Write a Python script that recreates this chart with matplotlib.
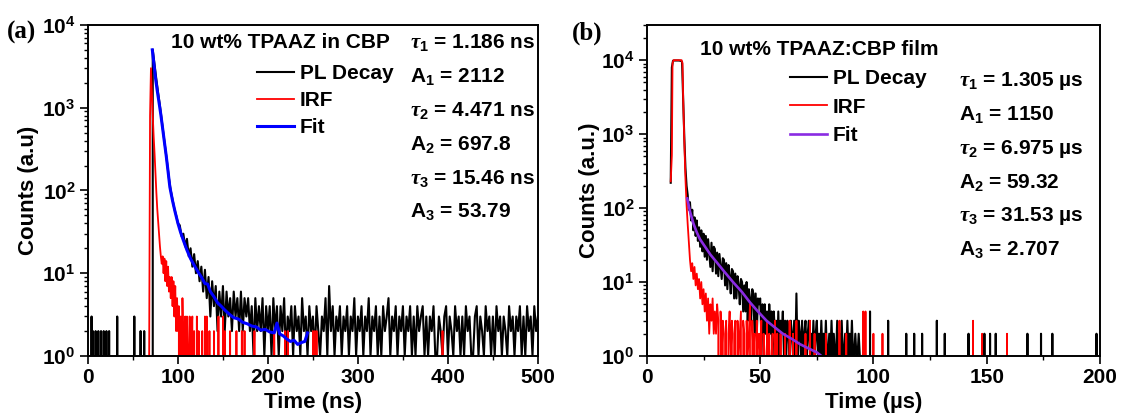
import numpy as np
import matplotlib
matplotlib.use("Agg")
import matplotlib.pyplot as plt
import matplotlib.ticker as ticker

plt.rcParams["font.family"] = ["Liberation Sans", "DejaVu Sans"]
plt.rcParams["font.weight"] = "bold"
plt.rcParams["mathtext.fontset"] = "custom"
plt.rcParams["mathtext.it"] = "Liberation Serif:italic"
plt.rcParams["mathtext.rm"] = "Liberation Sans:bold"
plt.rcParams["mathtext.bf"] = "Liberation Sans:bold"

# ---------------- panel (a): ns ----------------
# isolated background counts before the pulse
PL_A_PRE_T = [4, 5.5, 8.7, 11.5, 14.7, 17.5, 20.6, 23.4, 32.5, 51.6, 58.3, 62.3]
PL_A_PRE_C = [3, 2, 2, 2, 2, 2, 2, 2, 3, 3, 2, 2]
# PL decay counts, 2 ns channels starting at 70 ns
PL_A_START, PL_A_STEP = 70, 2
PL_A_COUNTS = [
    0, 5000, 3300, 2200, 1500, 1050, 700, 470, 320, 215, 140, 100, 78, 60, 50, 40,
    38, 28, 30, 21, 26, 16, 20, 12, 17, 10, 14, 8, 12, 6, 11, 5,
    9, 3, 8, 4, 7, 2, 6, 3, 7, 2, 6, 3, 5, 2, 6, 3,
    5, 2, 6, 2, 5, 3, 5, 2, 4, 1, 5, 2, 4, 2, 5, 1,
    4, 2, 4, 1, 5, 2, 4, 1, 4, 2, 5, 1, 3, 2, 4, 1,
    4, 2, 3, 1, 5, 2, 3, 1, 4, 2, 3, 1, 4, 2, 1, 3,
    2, 5, 1, 7, 2, 4, 1, 3, 2, 4, 1, 3, 2, 4, 1, 3,
    2, 5, 1, 3, 2, 4, 1, 3, 2, 5, 1, 3, 2, 4, 1, 3,
    1, 4, 2, 3, 5, 1, 3, 2, 4, 1, 3, 2, 4, 1, 3, 2,
    4, 1, 3, 1, 4, 2, 3, 4, 1, 3, 1, 3, 2, 4, 1, 1,
    3, 2, 1, 3, 4, 1, 3, 2, 1, 4, 2, 3, 1, 3, 1, 4,
    2, 3, 1, 1, 3, 4, 1, 3, 2, 1, 4, 2, 3, 1, 3, 1,
    4, 2, 3, 1, 3, 2, 1, 4, 2, 3, 1, 3, 2, 4, 1, 3,
    1, 4, 2, 3, 1, 4, 2, 3,
]
# IRF counts, 1 ns channels starting at 66 ns
IRF_A_START, IRF_A_STEP = 66, 1
IRF_A_COUNTS = [
    0, 0, 1, 800, 3000, 1500, 800, 450, 280, 160, 95, 60, 42, 30, 21, 16,
    13, 16, 10, 15, 8, 14, 7, 12, 6, 9, 5, 9, 4, 8, 3, 7,
    2, 5, 2, 4, 0, 3, 1, 5, 2, 0, 3, 0, 3, 1, 0, 3,
    0, 2, 3, 0, 2, 0, 0, 3, 0, 2, 0, 0, 0, 2, 0, 0, 3,
]
IRF_A_TAIL_T = [132, 135, 140, 145, 150, 152, 158, 165, 171, 174, 185, 207, 219, 222,
                250, 252, 254, 394]
IRF_A_TAIL_C = [3, 2, 2, 3, 3, 2, 2, 2, 2, 2, 2, 2, 2, 2, 2, 2, 2, 2]
# reconvolution fit
FIT_A_T = [71.5, 73, 75, 77, 79, 81, 83, 85, 87, 89, 91, 94, 97, 100, 103, 106,
           110, 114, 118, 122, 126, 130, 133, 136, 140, 144, 148, 152, 157, 162,
           167, 172, 177, 182, 187, 192, 197, 202, 207, 210, 213, 217, 221, 225,
           229, 233, 237, 241, 244]
FIT_A_Y = [5000, 3600, 2300, 1600, 1150, 820, 560, 380, 260, 170, 110, 75, 54, 40,
           31, 25, 19, 15, 12.5, 10.5, 9, 7.5, 7.4, 6.0, 5.2, 4.4, 4.0, 3.6, 3.2,
           2.9, 2.8, 2.55, 2.45, 2.3, 2.25, 2.05, 2.1, 1.95, 1.9, 2.5, 1.85, 1.75,
           1.6, 1.5, 1.55, 1.38, 1.45, 1.5, 1.9]

# ---------------- panel (b): us ----------------
PL_B_HEAD_T = [10.5, 11, 11.5, 12, 13, 14, 15, 15.5, 16, 16.5, 17, 17.5]
PL_B_HEAD_C = [220, 8000, 9800, 9900, 9900, 9900, 9800, 9500, 3000, 900, 350, 200]
PL_B_START, PL_B_STEP = 18, 0.5
PL_B_COUNTS = [
    150, 95, 120, 68, 95, 50, 75, 42, 68, 36, 55, 30, 50, 26, 45, 22,
    42, 20, 38, 25, 16, 34, 14, 30, 28, 13, 25, 12, 24, 16, 11, 21,
    20, 9, 18, 8, 17, 12, 7, 15, 14, 6, 13, 6, 12, 9, 5, 11,
    10, 4, 9, 4, 10, 3, 8, 6, 3, 8, 7, 2, 7, 2, 6, 5,
    6, 2, 5, 1, 5, 2, 4, 1, 5, 2, 4, 1, 4, 2, 3, 1,
    4, 1, 3, 2, 4, 1, 3, 1, 3, 2, 1, 3, 2, 1, 3, 1,
    7, 1, 3, 2, 1, 3, 1, 2, 3, 1, 2, 3, 1, 2, 1, 3,
    1, 2, 3, 1, 2, 1, 3, 1, 2, 1, 3, 1, 1, 2, 1, 3,
    1, 2, 1, 1, 3, 1, 2, 1, 3, 1, 1, 2, 1, 3, 1, 2,
    1, 3, 1, 1, 2, 1, 1, 2, 1, 1, 1,
]
PL_B_TAIL_T = [98.5, 106.5, 114.5, 118, 121.5, 128, 131.5, 142, 149, 151.5, 154,
               168, 174, 179, 198.5]
PL_B_TAIL_C = [4, 3, 2, 2, 2, 3, 2, 2, 2, 2, 2, 2, 2, 2, 2]

IRF_B_HEAD_T = [10.5, 11, 11.3, 11.7, 12.5, 13.5, 14.5, 15.3, 15.7, 16, 16.5, 17,
                17.5, 18, 18.5, 19]
IRF_B_HEAD_C = [230, 520, 9000, 10000, 10000, 10000, 10000, 10000, 9000, 3000, 800,
                250, 110, 60, 35, 20]
IRF_B_START, IRF_B_STEP = 19.5, 0.5
IRF_B_COUNTS = [
    14, 18, 11, 16, 9, 13, 8, 11, 6, 10, 5, 8, 4, 7, 3, 6,
    2, 5, 3, 6, 2, 4, 2, 5, 3, 0, 4, 1, 3, 0, 2, 3,
    0, 2, 4, 1, 3, 0, 2, 3, 0, 3, 1, 2, 4, 0, 3, 2,
    0, 3, 1, 2, 5, 0, 3, 1, 2, 0, 3, 0, 2, 1, 3, 0,
    2, 1, 0, 3, 0, 2, 0, 1, 2, 0, 3, 0, 2, 0, 0, 2, 0, 0,
]
IRF_B_TAIL_T = [61, 63, 64.5, 66, 70, 72, 74, 79, 85, 88, 95.5, 96.5, 100, 104,
                143.8, 148.2, 159]
IRF_B_TAIL_C = [2, 3, 2, 3, 2, 3, 2, 2, 3, 2, 4, 4, 2, 2, 3, 2, 2]

FIT_B_T = [17.8, 19, 20.5, 22, 23.4, 26, 28, 30.8, 34, 38, 42, 45.5, 49, 52.8, 56,
           60, 64, 67.5, 71, 75, 77]
FIT_B_Y = [135, 90, 62, 47, 38, 29, 23.5, 18.5, 14, 10, 7.3, 5.3, 4.0, 3.0, 2.5,
           2.0, 1.7, 1.45, 1.28, 1.12, 1.0]


def dense(start, step, counts):
    t = start + step * np.arange(len(counts))
    return t, np.asarray(counts, dtype=float)


def sparse(t0, t1, step, spike_t, spike_c):
    t = np.arange(t0, t1 + step / 2, step)
    c = np.zeros_like(t)
    idx = np.round((np.asarray(spike_t) - t0) / step).astype(int)
    c[idx] = spike_c
    return t, c


def style_axis(ax, xmax, xmajor, xminor, ymax, xlabel, ylabel):
    ax.set_yscale("log")
    ax.set_xlim(0, xmax)
    ax.set_ylim(1, ymax)
    ax.xaxis.set_major_locator(ticker.MultipleLocator(xmajor))
    ax.xaxis.set_minor_locator(ticker.MultipleLocator(xminor))
    ax.yaxis.set_major_locator(ticker.LogLocator(base=10, numticks=10))
    ax.yaxis.set_minor_locator(ticker.LogLocator(base=10, subs=np.arange(2, 10), numticks=10))
    ax.yaxis.set_minor_formatter(ticker.NullFormatter())
    ax.tick_params(axis="both", which="major", direction="out", length=6, width=1.2,
                   labelsize=15, pad=3)
    ax.tick_params(axis="both", which="minor", direction="out", length=3, width=1.0)
    for lab in ax.get_xticklabels() + ax.get_yticklabels():
        lab.set_fontweight("bold")
    for sp in ax.spines.values():
        sp.set_linewidth(1.4)
    ax.set_xlabel(xlabel, fontsize=16, fontweight="bold")
    ax.set_ylabel(ylabel, fontsize=16, fontweight="bold")
    ax.xaxis.set_label_coords(0.5, -0.108)
    ax.yaxis.set_label_coords(-0.108, 0.5)


fig = plt.figure(figsize=(11.22, 4.17), dpi=100)
ax_a = fig.add_axes([0.0784, 0.1463, 0.401, 0.794])
ax_b = fig.add_axes([0.5766, 0.1463, 0.4037, 0.794])

# ---- (a)
t_pre, c_pre = sparse(0, 69.5, 0.5, PL_A_PRE_T, PL_A_PRE_C)
t_pl, c_pl = dense(PL_A_START, PL_A_STEP, PL_A_COUNTS)
t_irf, c_irf = dense(IRF_A_START, IRF_A_STEP, IRF_A_COUNTS)
t_irf2, c_irf2 = sparse(131, 500, 1, IRF_A_TAIL_T, IRF_A_TAIL_C)

ax_a.plot(np.concatenate([t_pre, t_pl]), np.concatenate([c_pre, c_pl]),
          color="black", lw=1.5, label="PL Decay")
ax_a.plot(np.concatenate([t_irf, t_irf2]), np.concatenate([c_irf, c_irf2]),
          color="#ff0000", lw=1.3, label="IRF")
ax_a.plot(FIT_A_T, FIT_A_Y, color="#0000ff", lw=2.2, label="Fit")
style_axis(ax_a, 500, 100, 50, 1e4, "Time (ns)", "Counts (a.u)")

ax_a.legend(loc="upper left", bbox_to_anchor=(0.376, 0.882), frameon=False,
            fontsize=15, handlelength=1.75, handletextpad=0.3, labelspacing=0.38,
            borderpad=0, borderaxespad=0)
ax_a.text(0.184, 0.946, "10 wt% TPAAZ in CBP", transform=ax_a.transAxes,
          fontsize=15, fontweight="bold", va="center", ha="left")
params_a = [r"$\tau_1$ = 1.186 ns", r"A$_1$ = 2112", r"$\tau_2$ = 4.471 ns",
            r"A$_2$ = 697.8", r"$\tau_3$ = 15.46 ns", r"A$_3$ = 53.79"]
for i, s in enumerate(params_a):
    ax_a.text(0.716, 0.946 - i * 0.1022, s, transform=ax_a.transAxes,
              fontsize=15, fontweight="bold", va="center", ha="left")

# ---- (b)
t_pl_b, c_pl_b = dense(PL_B_START, PL_B_STEP, PL_B_COUNTS)
t_pl_b2, c_pl_b2 = sparse(t_pl_b[-1] + 0.5, 200, 0.5, PL_B_TAIL_T, PL_B_TAIL_C)
t_irf_b, c_irf_b = dense(IRF_B_START, IRF_B_STEP, IRF_B_COUNTS)
t_irf_b2, c_irf_b2 = sparse(t_irf_b[-1] + 0.5, 200, 0.5, IRF_B_TAIL_T, IRF_B_TAIL_C)

ax_b.plot(np.concatenate([PL_B_HEAD_T, t_pl_b, t_pl_b2]),
          np.concatenate([PL_B_HEAD_C, c_pl_b, c_pl_b2]),
          color="black", lw=1.5, label="PL Decay")
ax_b.plot(np.concatenate([IRF_B_HEAD_T, t_irf_b, t_irf_b2]),
          np.concatenate([IRF_B_HEAD_C, c_irf_b, c_irf_b2]),
          color="#ff0000", lw=1.3, label="IRF")
ax_b.plot(FIT_B_T, FIT_B_Y, color="#8a2be2", lw=1.9, label="Fit")
style_axis(ax_b, 200, 50, 25, 3e4, "Time (\u00b5s)", "Counts (a.u.)")
ax_b.yaxis.set_label_coords(-0.104, 0.5)

ax_b.legend(loc="upper left", bbox_to_anchor=(0.316, 0.866), frameon=False,
            fontsize=15, handlelength=1.75, handletextpad=0.3, labelspacing=0.45,
            borderpad=0, borderaxespad=0)
ax_b.text(0.117, 0.927, "10 wt% TPAAZ:CBP film", transform=ax_b.transAxes,
          fontsize=15, fontweight="bold", va="center", ha="left")
params_b = [r"$\tau_1$ = 1.305 \u00b5s", r"A$_1$ = 1150", r"$\tau_2$ = 6.975 \u00b5s",
            r"A$_2$ = 59.32", r"$\tau_3$ = 31.53 \u00b5s", r"A$_3$ = 2.707"]
for i, s in enumerate(params_b):
    ax_b.text(0.689, 0.830 - i * 0.1017, s.replace("\\u00b5", "\u00b5"),
              transform=ax_b.transAxes, fontsize=15, fontweight="bold",
              va="center", ha="left")

fig.text(0.006, 0.921, "(a)", family="Liberation Serif", fontsize=18,
         fontweight="bold", va="center", ha="left")
fig.text(0.510, 0.921, "(b)", family="Liberation Serif", fontsize=18,
         fontweight="bold", va="center", ha="left")

fig.savefig("out.png", dpi=100)
